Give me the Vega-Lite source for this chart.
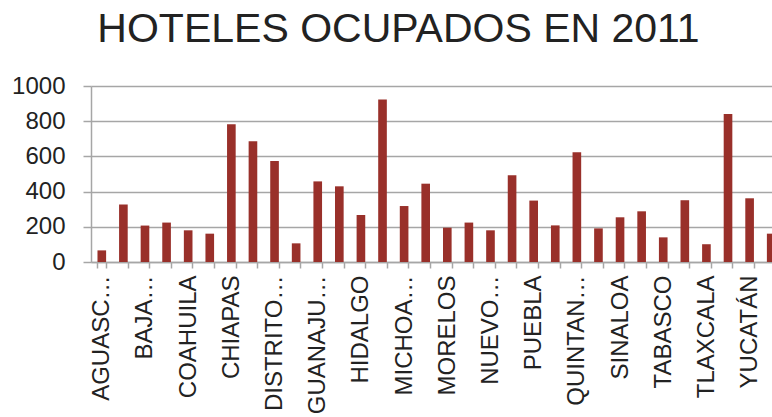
{
  "$schema": "https://vega.github.io/schema/vega-lite/v6.json",
  "autosize": {"type": "none"},
  "padding": {"left": 91, "top": 86, "right": 0, "bottom": 155},
  "width": 691,
  "height": 176,
  "background": "white",
  "title": {
    "text": "HOTELES OCUPADOS EN 2011",
    "font": "Liberation Sans",
    "fontSize": 41,
    "fontWeight": "normal",
    "color": "#222222",
    "anchor": "middle",
    "dx": -38,
    "offset": 23
  },
  "data": {
    "values": [
      {"estado": "AGUASCALIENTES", "hoteles": 66},
      {"estado": "BAJA CALIFORNIA", "hoteles": 326},
      {"estado": "BAJA CALIFORNIA SUR", "hoteles": 207},
      {"estado": "CAMPECHE", "hoteles": 224},
      {"estado": "COAHUILA", "hoteles": 180},
      {"estado": "COLIMA", "hoteles": 161},
      {"estado": "CHIAPAS", "hoteles": 782},
      {"estado": "CHIHUAHUA", "hoteles": 686},
      {"estado": "DISTRITO FEDERAL", "hoteles": 574},
      {"estado": "DURANGO", "hoteles": 106},
      {"estado": "GUANAJUATO", "hoteles": 458},
      {"estado": "GUERRERO", "hoteles": 430},
      {"estado": "HIDALGO", "hoteles": 267},
      {"estado": "JALISCO", "hoteles": 924},
      {"estado": "MICHOACÁN", "hoteles": 318},
      {"estado": "MÉXICO", "hoteles": 445},
      {"estado": "MORELOS", "hoteles": 195},
      {"estado": "NAYARIT", "hoteles": 224},
      {"estado": "NUEVO LEÓN", "hoteles": 180},
      {"estado": "OAXACA", "hoteles": 493},
      {"estado": "PUEBLA", "hoteles": 349},
      {"estado": "QUERÉTARO", "hoteles": 208},
      {"estado": "QUINTANA ROO", "hoteles": 623},
      {"estado": "SAN LUIS POTOSÍ", "hoteles": 191},
      {"estado": "SINALOA", "hoteles": 254},
      {"estado": "SONORA", "hoteles": 288},
      {"estado": "TABASCO", "hoteles": 140},
      {"estado": "TAMAULIPAS", "hoteles": 351},
      {"estado": "TLAXCALA", "hoteles": 101},
      {"estado": "VERACRUZ", "hoteles": 841},
      {"estado": "YUCATÁN", "hoteles": 362},
      {"estado": "ZACATECAS", "hoteles": 161}
    ]
  },
  "mark": {"type": "bar", "color": "#99302A"},
  "encoding": {
    "x": {
      "field": "estado",
      "type": "nominal",
      "sort": null,
      "scale": {"paddingInner": 0.6, "paddingOuter": 0.3},
      "axis": {
        "title": null,
        "labelAngle": -90,
        "labelFont": "Liberation Sans",
        "labelFontSize": 24,
        "labelColor": "#222222",
        "labelPadding": 7,
        "labelOverlap": false,
        "labelLimit": 200,
        "labelExpr": "({'AGUASCALIENTES': 'AGUASC…', 'BAJA CALIFORNIA SUR': 'BAJA…', 'COAHUILA': 'COAHUILA', 'CHIAPAS': 'CHIAPAS', 'DISTRITO FEDERAL': 'DISTRITO…', 'GUANAJUATO': 'GUANAJU…', 'HIDALGO': 'HIDALGO', 'MICHOACÁN': 'MICHOA…', 'MORELOS': 'MORELOS', 'NUEVO LEÓN': 'NUEVO…', 'PUEBLA': 'PUEBLA', 'QUINTANA ROO': 'QUINTAN…', 'SINALOA': 'SINALOA', 'TABASCO': 'TABASCO', 'TLAXCALA': 'TLAXCALA', 'YUCATÁN': 'YUCATÁN'})[datum.value] || ''",
        "tickBand": "extent",
        "tickSize": 6,
        "tickColor": "#A6A6A6",
        "tickWidth": 1.5,
        "domainColor": "#A6A6A6",
        "domainWidth": 1.5,
        "grid": false
      }
    },
    "y": {
      "field": "hoteles",
      "type": "quantitative",
      "scale": {"domain": [0, 1000]},
      "axis": {
        "title": null,
        "values": [0, 200, 400, 600, 800, 1000],
        "format": "d",
        "labelFont": "Liberation Sans",
        "labelFontSize": 24,
        "labelColor": "#222222",
        "labelPadding": 18,
        "tickSize": 8,
        "tickColor": "#A6A6A6",
        "tickWidth": 1.5,
        "domain": true,
        "domainColor": "#A6A6A6",
        "domainWidth": 1.5,
        "grid": true,
        "gridColor": "#A6A6A6",
        "gridWidth": 1.5
      }
    }
  },
  "config": {"view": {"stroke": null}}
}
